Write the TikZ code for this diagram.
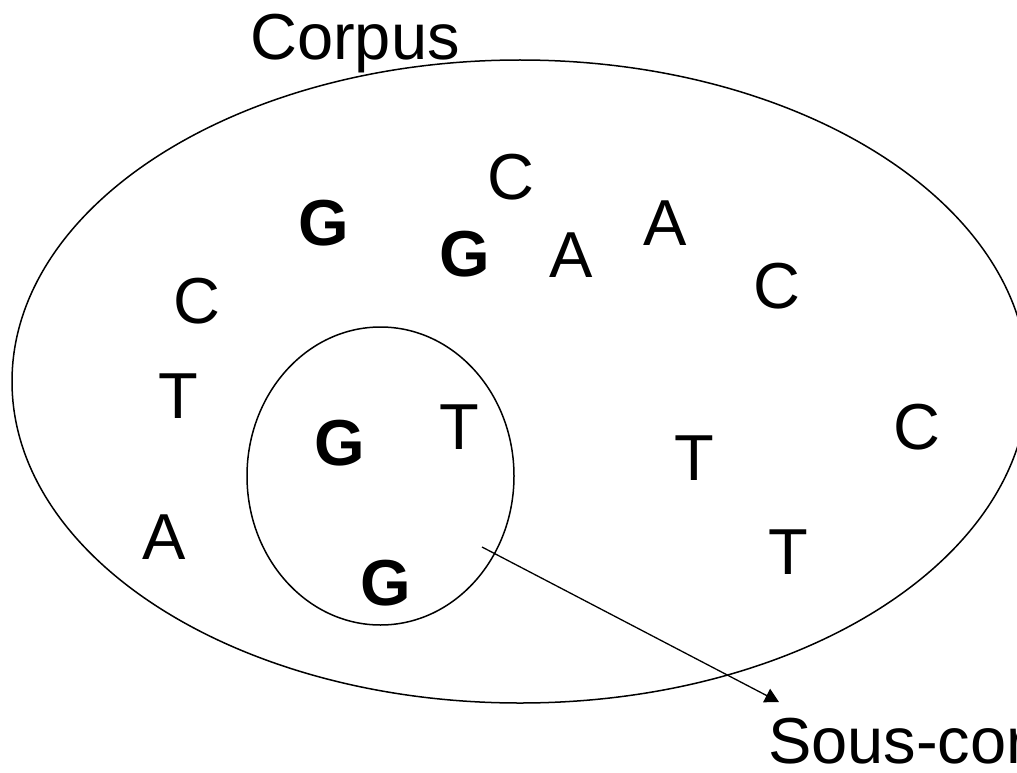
\documentclass[tikz,border=0pt]{standalone}
\usepackage{fontspec}
\setmainfont{Liberation Sans}
\usetikzlibrary{arrows.meta}
\tikzset{
  ltr/.style={inner sep=0pt, font=\fontsize{65}{65}\selectfont},
  bltr/.style={inner sep=0pt, font=\fontsize{65}{65}\selectfont\bfseries},
  lbl/.style={inner sep=0pt, anchor=base west, font=\fontsize{65}{65}\selectfont},
  ring/.style={draw=black, line width=1.5pt},
  link/.style={draw=black, line width=1.3pt, -{Triangle[length=14pt,width=15pt]}}
}
\begin{document}
\begin{tikzpicture}[x=1pt,y=-1pt]
\useasboundingbox (0,0) rectangle (1017,773);
\clip (0,0) rectangle (1017,773);
\fill[white] (0,0) rectangle (1017,773);
% ellipses
\draw[ring] (520,381.5) ellipse [x radius=508, y radius=321.5];
\draw[ring] (380.5,476) ellipse [x radius=133.5, y radius=149];
% labels
\node[lbl] (corpus) at (250,60) {Corpus};
\node[lbl] (sous) at (768,763) {Sous-corpus};
% letters
\node[ltr] (c1) at (510.5,177) {C};
\node[bltr] (g1) at (324,223.5) {G};
\node[bltr] (g2) at (464.5,254.5) {G};
\node[ltr] (a1) at (571,255) {A};
\node[ltr] (a2) at (665,223) {A};
\node[ltr] (c2) at (776.5,286) {C};
\node[ltr] (c3) at (197,301) {C};
\node[ltr] (t1) at (178,396) {T};
\node[bltr] (g3) at (340,443) {G};
\node[ltr] (t2) at (459,427) {T};
\node[ltr] (t3) at (694.5,458.5) {T};
\node[ltr] (c4) at (917,427.5) {C};
\node[ltr] (a3) at (164,537.5) {A};
\node[bltr] (g4) at (385.5,583) {G};
\node[ltr] (t4) at (788,552.5) {T};
% arrow
\coordinate (from) at (482,547);
\coordinate (to) at (779,702);
\draw[link] (from) -- (to);
\end{tikzpicture}
\end{document}
